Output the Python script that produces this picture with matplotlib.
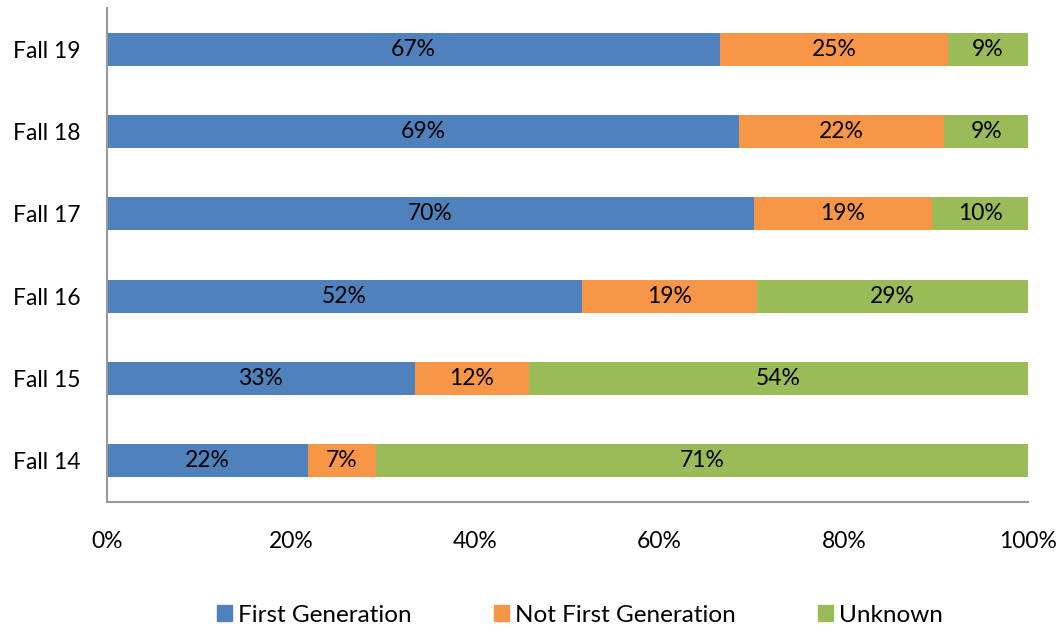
import numpy as np
import matplotlib.pyplot as plt
from matplotlib.patches import Patch

plt.rcParams['font.family'] = ['Lato', 'DejaVu Sans']

terms = ['Fall 14', 'Fall 15', 'Fall 16', 'Fall 17', 'Fall 18', 'Fall 19']
first_gen = [21.8, 33.4, 51.6, 70.2, 68.6, 66.6]
not_first = [7.4, 12.4, 19.0, 19.4, 22.3, 24.7]
unknown = [70.8, 54.2, 29.4, 10.4, 9.1, 8.7]

series = ['First Generation', 'Not First Generation', 'Unknown']
colors = ['#4f81bd', '#f79646', '#9bbb59']

fig = plt.figure(figsize=(10.62, 6.33), dpi=100)
ax = fig.add_axes([107/1062, 1 - 502/633, 921/1062, 494/633])

y = np.arange(len(terms))
left = np.zeros(len(terms))
for vals, col in zip([first_gen, not_first, unknown], colors):
    vals = np.array(vals)
    ax.barh(y, vals, left=left, height=0.4, color=col)
    for yi, l, v in zip(y, left, vals):
        ax.text(l + v / 2, yi, '%.0f%%' % v, ha='center', va='center', fontsize=16.5, color='black')
    left = left + vals

ax.set_xlim(0, 100)
ax.set_ylim(-0.5, 5.5)
ax.set_yticks(y)
ax.set_yticklabels(terms, fontsize=16.5)
ax.set_xticks(np.arange(0, 101, 20))
ax.set_xticklabels(['%d%%' % t for t in range(0, 101, 20)], fontsize=16.5)
ax.tick_params(length=0)
ax.tick_params(axis='x', pad=21)
ax.tick_params(axis='y', pad=19)
for s in ['top', 'right']:
    ax.spines[s].set_visible(False)
for s in ['left', 'bottom']:
    ax.spines[s].set_color('#999999')
    ax.spines[s].set_linewidth(1.5)

handles = [Patch(color=c, label=s) for c, s in zip(colors, series)]
fig.legend(handles=handles, loc='center', bbox_to_anchor=(0.546, 0.028), ncol=3, frameon=False,
           fontsize=17.5, handlelength=0.6, handleheight=0.6, handletextpad=0.25, columnspacing=3.4)

fig.savefig('out.png', dpi=100)
